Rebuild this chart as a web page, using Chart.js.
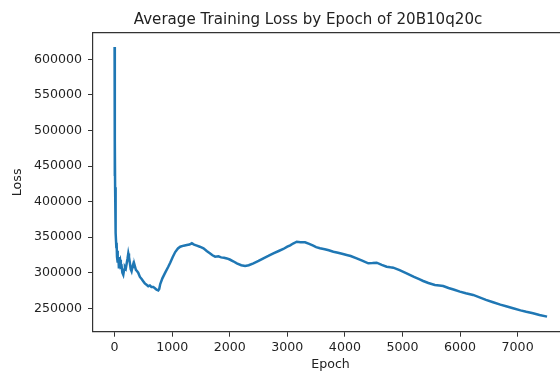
<!DOCTYPE html>
<html>
<head>
<meta charset="utf-8">
<script src="https://cdn.jsdelivr.net/npm/chart.js@4.4.1/dist/chart.umd.min.js"></script>
<style>
  html, body { margin: 0; padding: 0; overflow: hidden; background: #fff; width: 560px; height: 376px; }
  canvas { display: block; }
</style>
</head>
<body>
<canvas id="lossChart" width="580" height="376" style="width:580px;height:376px"></canvas>
<script>
// Average training loss per epoch (20B10q20c run)
const epochs = [
  0, 2, 4, 6, 9, 12, 16, 20, 24, 30, 35, 42, 50, 58, 66, 75, 85, 95, 108, 122,
  135, 151, 165, 180, 195, 210, 225, 238, 250, 265, 280, 295, 310, 324, 340, 353, 370, 382, 410, 440,
  470, 497, 525, 555, 585, 613, 640, 671, 700, 729, 758, 775, 793, 830, 879, 930, 966, 1010, 1053, 1100,
  1140, 1200, 1255, 1300, 1342, 1380, 1429, 1480, 1544, 1600, 1660, 1700, 1747, 1804, 1850, 1900, 1950, 2000, 2060, 2123,
  2200, 2267, 2330, 2411, 2500, 2585, 2670, 2758, 2850, 2931, 3000, 3050, 3100, 3164, 3230, 3308, 3380, 3450, 3500, 3568,
  3650, 3720, 3800, 3880, 3950, 4031, 4100, 4205, 4300, 4406, 4480, 4552, 4640, 4725, 4790, 4840, 4950, 5072, 5200, 5300,
  5360, 5450, 5563, 5640, 5707, 5800, 5900, 5997, 6100, 6227, 6350, 6450, 6574, 6700, 6800, 6921, 7050, 7150, 7268, 7380,
  7511
];
const losses = [
  617500, 520000, 436000, 486000, 420000, 380000, 395000, 362000, 356000, 336000, 342000, 322000, 331000, 314000, 322000, 306000, 316000, 318000, 308000, 309000,
  300000, 297000, 304000, 308000, 306000, 313000, 320000, 327000, 322000, 314000, 305000, 302000, 308000, 312000, 308000, 309000, 304000, 303000, 300000, 294000,
  291000, 288000, 285000, 283000, 281000, 282000, 280000, 280000, 278000, 276000, 275000, 277000, 284000, 292000, 300000, 308000, 314000, 322000, 329000, 334000,
  336500, 338000, 338900, 339500, 341300, 339500, 338000, 336500, 334300, 330500, 327000, 324500, 322500, 323000, 321500, 321000, 320000, 318500, 316000, 313000,
  310500, 309400, 310500, 313200, 316500, 320200, 323500, 327200, 330500, 333300, 336500, 338500, 341000, 343500, 342800, 342700, 340500, 338000, 336000, 334300,
  333000, 331500, 329500, 328000, 326500, 324900, 323500, 320200, 317000, 313200, 313500, 314000, 311000, 308400, 307500, 307000, 303500, 299100, 294000, 290500,
  288300, 285500, 282700, 282000, 281300, 278500, 276000, 273300, 271000, 268700, 265000, 261800, 258400, 255000, 252800, 250000, 247000, 245000, 243000, 240500,
  238200
];

// Axis ticks and ranges
const xTicks = [0, 1000, 2000, 3000, 4000, 5000, 6000, 7000];
const yTicks = [250000, 300000, 350000, 400000, 450000, 500000, 550000, 600000];
const xRange = [-375, 7875];
const yRange = [217000, 637000];

const FONT = 'DejaVu Sans';
const TEXT = '#222';
const SPINE = '#333';
const TICK_SIZE = 12.6;

const points = epochs.map((e, i) => ({ x: e, y: losses[i] }));

// Moves the chart title so its centre sits at a fixed x position
const titlePlacement = {
  id: 'titlePlacement',
  afterLayout(chart) {
    const t = chart.titleBlock;
    if (!t) return;
    const shift = 308 - (t.left + t.right) / 2;
    t.left += shift;
    t.right += shift;
  }
};

new Chart(document.getElementById('lossChart'), {
  type: 'line',
  data: {
    datasets: [{
      data: points,
      borderColor: '#1f77b4',
      borderWidth: 2.5,
      pointRadius: 0,
      tension: 0,
      fill: false,
      xAxisID: 'x',
      yAxisID: 'y'
    }]
  },
  options: {
    responsive: false,
    animation: false,
    devicePixelRatio: 1,
    layout: { padding: { left: 0, right: 12, top: 0, bottom: 0 } },
    plugins: {
      legend: { display: false },
      tooltip: { enabled: false },
      title: {
        display: true,
        text: 'Average Training Loss by Epoch of 20B10q20c',
        color: TEXT,
        font: { family: FONT, size: 15.1, weight: 'normal' },
        padding: { top: 10.9, bottom: 4 }
      }
    },
    scales: {
      x: {
        type: 'linear',
        position: 'bottom',
        min: xRange[0],
        max: xRange[1],
        afterBuildTicks: s => { s.ticks = xTicks.map(v => ({ value: v })); },
        afterFit: s => { s.height = 44.3; },
        grid: { display: true, drawOnChartArea: false, drawTicks: true, tickLength: 5, color: SPINE, lineWidth: 1 },
        border: { display: true, color: SPINE, width: 1.2 },
        ticks: {
          color: TEXT, padding: 3, autoSkip: false, maxRotation: 0,
          font: { family: FONT, size: TICK_SIZE },
          callback: v => String(v)
        },
        title: {
          display: true, text: 'Epoch', color: TEXT,
          font: { family: FONT, size: TICK_SIZE },
          padding: { top: 0, bottom: 3.4 }
        }
      },
      xTop: {
        type: 'linear',
        position: 'top',
        min: xRange[0],
        max: xRange[1],
        grid: { display: false, drawTicks: false },
        ticks: { display: false },
        border: { display: true, color: SPINE, width: 1.2 },
        afterFit: s => { s.height = 0; }
      },
      y: {
        type: 'linear',
        position: 'left',
        min: yRange[0],
        max: yRange[1],
        afterBuildTicks: s => { s.ticks = yTicks.map(v => ({ value: v })); },
        afterFit: s => { s.width = 93; },
        grid: { display: true, drawOnChartArea: false, drawTicks: true, tickLength: 5, color: SPINE, lineWidth: 1 },
        border: { display: true, color: SPINE, width: 1.2 },
        ticks: {
          color: TEXT, padding: 6, autoSkip: false,
          font: { family: FONT, size: TICK_SIZE },
          callback: v => String(v)
        },
        title: {
          display: true, text: 'Loss', color: TEXT,
          font: { family: FONT, size: TICK_SIZE },
          padding: { top: 10.4, bottom: 0 }
        }
      }
    }
  },
  plugins: [titlePlacement]
});
</script>
</body>
</html>
